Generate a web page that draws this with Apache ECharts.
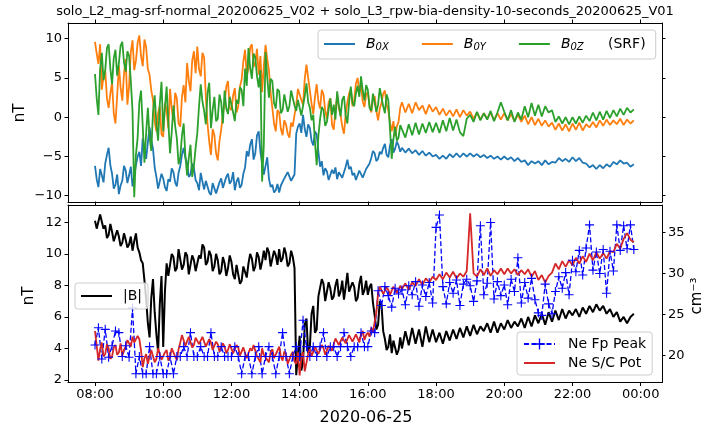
<!DOCTYPE html>
<html>
<head>
<meta charset="utf-8">
<script src="https://cdn.jsdelivr.net/npm/echarts@6/dist/echarts.min.js"></script>
<style>
html, body { margin: 0; padding: 0; background: #fff; }
#chart { width: 706px; height: 428px; }
</style>
</head>
<body>
<div id="chart"></div>
<script>
// times in minutes since 00:00
// early part 08:00-16:57 every 3 min, late part 17:00-23:48 every 6 min
var earlyStart = 480, earlyStep = 3;
var lateStart = 1020, lateStep = 6;
var tickMinutes = [480, 600, 720, 840, 960, 1080, 1200, 1320, 1440];
var bTicks = [-10, -5, 0, 5, 10];
var magTicks = [2, 4, 6, 8, 10, 12];
var denTicks = [20, 25, 30, 35];

// B0X (nT)
var bxEarly = [
  -6.2, -7.9, -8.9, -6.6, -7.4, -8.3, -5.9, -4.8, -3.9, -6.1, -7.2, -9.1, -8.6, -7.3, -9.8, -8.7, -8.1, -6.2, -6.8, -8.4,
  -7.4, -6.3, -8.8, -7.5, -6.1, -5.0, -4.4, -6.2, -2.7, -4.1, -5.3, -3.2, -1.3, -2.9, -4.0, -6.4, -7.6, -9.1, -8.9, -7.2,
  -7.8, -8.9, -9.4, -7.9, -8.2, -6.5, -7.0, -8.3, -8.8, -7.1, -6.2, -4.8, -3.9, -5.2, -5.8, -7.6, -7.3, -5.9, -6.5, -8.0,
  -8.4, -9.3, -7.1, -8.2, -9.2, -8.1, -8.0, -9.6, -9.9, -8.4, -8.6, -9.7, -9.5, -8.3, -7.8, -9.0, -8.9, -7.6, -7.2, -8.5,
  -8.1, -7.0, -9.3, -8.2, -7.7, -9.0, -8.6, -7.2, -6.4, -4.3, -5.0, -3.5, -2.8, -5.4, -4.6, -2.3, -1.8, -4.4, -5.9, -7.3,
  -6.2, -5.1, -7.8, -8.9, -8.6, -9.6, -9.3, -8.5, -9.6, -8.7, -8.9, -7.8, -7.6, -7.0, -7.2, -8.1, -7.9, -7.3, -2.1, -1.2,
  -0.8, -2.0, 0.3, -1.5, -2.5, -0.9, -1.4, -3.0, -3.6, -1.8, -2.2, -4.4, -6.3, -5.6, -7.4, -6.5, -6.9, -8.0, -7.8, -6.7,
  -7.2, -6.4, -7.9, -7.0, -6.8, -7.7, -7.6, -6.3, -5.4, -6.6, -6.3, -7.4, -7.1, -8.0, -7.8, -6.8, -6.9, -7.7, -7.5, -6.6,
  -6.8, -5.9, -5.2, -4.3, -4.6, -5.6, -5.3, -4.4, -4.7, -3.9, -3.4, -4.8, -5.1, -3.6, -2.8, -4.5, -4.0, -3.1, -3.6, -4.4
];
var bxLate = [
  -3.9, -4.5, -4.0, -4.6, -4.2, -4.8, -4.3, -4.9, -4.5, -5.0,
  -4.8, -5.3, -4.9, -5.3, -4.7, -5.1, -4.6, -5.1, -4.6, -5.0,
  -4.6, -5.0, -4.7, -5.1, -4.8, -5.2, -4.9, -5.3, -5.0, -5.4,
  -5.0, -5.4, -5.1, -5.6, -5.2, -5.7, -5.5, -6.1, -5.6, -5.9,
  -5.6, -6.1, -5.5, -6.0, -5.7, -5.8, -5.2, -5.6, -5.3, -5.7,
  -5.1, -5.6, -5.2, -5.8, -5.9, -6.4, -6.1, -6.6, -6.1, -6.5,
  -6.0, -6.3, -5.7, -6.0, -5.5, -5.9, -5.8, -6.3, -6.0
];
// B0Y (nT)
var byEarly = [
  9.6, 8.1, 6.8, 9.3, 3.5, 5.2, 5.9, 2.4, 1.2, 3.0, 4.4, 0.5, -0.8, 2.7, 6.6, 3.8, 2.1, 5.5, 7.4, 1.6,
  4.0, 8.3, 9.8, 6.0, 7.2, 9.5, 10.4, 7.8, 6.5, 9.9, 8.9, 6.1, 5.4, 3.4, 2.2, -0.6, -1.8, 0.5, 1.4, -2.2,
  -2.5, 1.8, 0.9, -1.4, 3.6, 1.0, -0.5, 3.1, 2.4, -0.8, -1.2, 2.6, 4.1, 1.9, 6.9, 4.7, 3.3, 7.2, 8.4, 5.6,
  9.0, 6.1, 5.2, 8.2, 7.6, 2.5, -0.9, -3.1, -4.8, -1.5, -2.3, -4.6, -5.5, -3.0, -1.6, 0.4, 1.8, 3.9, 4.6, 1.2,
  0.9, 2.8, 3.7, 0.6, 1.4, 3.9, 4.8, 7.1, 8.6, 5.3, 6.2, 8.9, 9.3, 6.4, 7.0, 8.7, 5.4, 7.8, 3.2, 6.5,
  9.2, 7.4, 6.0, 3.1, 1.2, -0.8, -1.8, 0.9, 0.6, -1.5, -2.3, -0.4, -0.9, -2.1, -2.6, -0.7, -1.2, 0.3, 1.5, 3.6,
  3.8, 2.2, 1.6, 4.9, 6.7, 5.0, 3.4, 1.7, 0.4, 2.6, 4.2, 2.0, 1.1, 3.5, 2.9, 0.8, -0.2, 1.9, 2.4, -1.0,
  -1.6, 0.9, 2.8, 1.1, 0.3, -1.2, -2.1, 0.4, 1.9, 3.0, 3.6, 1.4, 2.2, 4.3, 5.0, 3.2, 4.1, 2.0, 1.3, 2.9,
  3.2, 1.5, 0.6, 2.3, 2.7, 0.8, -0.4, 1.1, 1.8, 3.0, 3.4, 1.6, 0.9, -0.7, -1.8, -0.5, -2.4, -1.2, -0.6, 1.2
];
var byLate = [
  1.9, 0.6, 1.7, 0.5, 1.9, 0.9, 1.5, 0.4, 1.6, 0.7,
  1.3, 0.3, 1.1, 0.2, 0.9, 0.1, 1.0, 0.0, 0.9, 0.2,
  0.7, -0.2, 0.6, -0.3, 0.5, -0.2, 0.6, -0.4, 0.5, -0.3,
  0.5, -0.4, 0.4, -0.5, 0.3, -0.6, 0.2, -0.9, 0.0, -1.0,
  -0.2, -1.1, -0.4, -1.2, -0.7, -1.6, -0.8, -1.7, -0.9, -1.8,
  -0.8, -1.6, -0.7, -1.7, -0.9, -1.3, -0.6, -1.3, -0.4, -1.1,
  -0.3, -1.0, -0.4, -0.9, -0.2, -1.0, -0.3, -0.8, -0.4
];
// B0Z (nT)
var bzEarly = [
  5.5, 2.4, 0.3, 6.1, 8.2, 4.7, 6.0, 8.8, 9.3, 6.2, 4.2, 7.5, 8.6, 5.3, 6.9, 9.1, 9.6, 7.0, 5.8, 8.4,
  7.8, 4.6, 0.8, -10.2, -4.8, -2.6, 1.9, 3.4, -1.2, -5.8, -2.0, 1.2, -2.5, -4.3, 0.6, 2.8, -0.9, -3.0, 1.7, 4.5,
  -1.8, 1.2, 3.9, -0.6, -4.6, -1.9, 1.5, -1.1, -2.7, -6.0, -5.1, -2.3, -0.8, -4.9, -7.4, -5.2, -3.5, -7.6, -6.2, -3.9,
  -2.0, 1.4, 4.2, 2.0, 0.8, -0.9, 3.1, 4.4, -1.4, 0.9, 2.6, -0.5, -0.2, 2.9, 1.9, -0.8, 3.4, 1.1, 0.4, 2.6,
  2.8, 0.6, -0.5, 2.2, 1.7, 3.8, 3.5, 1.4, 6.2, 4.0, 8.8, 6.3, 4.9, 8.1, 7.6, 5.2, 3.8, 6.0, -8.2, -3.5,
  8.3, 5.1, 2.5, 4.9, 4.6, 1.8, 1.1, 3.6, 3.3, 0.5, 0.9, 2.9, 2.8, 0.7, 1.4, 3.4, 3.6, 1.5, 0.8, 2.2,
  2.0, 0.2, 0.4, 2.7, 4.3, 1.9, 1.2, -0.4, 0.3, -3.2, -6.1, -2.4, -0.2, 1.3, 0.9, -1.1, -0.6, 1.0, 2.4, 0.3,
  1.6, -0.3, 3.3, 1.5, 0.1, 2.2, 2.7, 0.2, -0.8, 1.9, 3.9, 1.8, 1.4, 3.0, 4.0, 2.6, 5.2, 3.4, 2.1, 4.1,
  3.5, 1.2, 0.8, 3.0, 2.9, 0.7, 1.6, 3.7, 3.8, 1.4, 0.5, 2.9, 2.2, -1.6, -5.3, -2.8, -1.2, -3.0, -2.6, -1.0
];
var bzLate = [
  -1.2, -2.6, -0.9, -2.3, -0.7, -2.2, -0.8, -2.0, -0.6, -1.9,
  -0.7, -2.0, -0.4, -1.8, -0.1, -1.7, -0.3, -1.9, -2.4, -0.2,
  0.3, -0.6, 0.7, -0.4, 0.5, -0.3, 0.8, -0.5, 0.6, 1.9,
  0.7, -0.4, 0.9, -0.6, 0.6, -0.3, 1.4, 0.0, 1.8, 0.2,
  1.6, 0.1, 1.4, 0.6, 0.9, -0.6, 0.1, -0.8, 0.0, -0.9,
  0.0, -0.8, 0.1, -0.7, 0.2, -0.5, 0.6, -0.4, 0.7, -0.3,
  0.8, -0.1, 0.9, 0.1, 1.1, 0.3, 1.2, 0.6, 1.0
];
// |B| (nT)
var bmagEarly = [
  12.1, 11.6, 11.5, 12.5, 12.4, 11.6, 11.8, 11.0, 11.2, 11.9, 11.4, 10.8, 10.9, 11.5, 11.1, 10.5, 10.7, 11.3, 10.9, 10.4,
  10.6, 11.1, 10.2, 10.8, 11.3, 10.4, 10.1, 9.6, 9.4, 8.3, 7.1, 5.6, 4.7, 7.2, 8.4, 6.3, 4.9, 3.8, 6.8, 8.6,
  4.1, 7.6, 9.4, 8.6, 8.7, 10.0, 9.8, 8.9, 9.1, 10.3, 10.2, 9.0, 9.3, 10.1, 9.9, 8.7, 8.8, 9.9, 9.6, 8.9,
  9.0, 9.9, 9.7, 10.6, 10.4, 9.3, 9.5, 10.2, 9.9, 8.9, 9.2, 10.0, 9.6, 8.7, 8.9, 9.8, 9.4, 8.6, 9.1, 9.9,
  9.5, 8.7, 8.4, 9.3, 8.7, 8.1, 8.3, 9.2, 9.1, 8.5, 9.4, 10.0, 9.7, 8.9, 9.2, 10.1, 9.8, 9.0, 9.5, 10.2,
  9.6, 10.4, 10.1, 9.2, 9.3, 10.2, 9.9, 9.3, 10.3, 9.5, 9.7, 10.4, 10.0, 9.2, 9.4, 10.2, 9.8, 9.1, 2.3, 3.6,
  4.8, 2.6, 3.2, 5.5, 5.9, 3.7, 4.1, 6.2, 6.7, 5.0, 5.2, 7.3, 7.4, 8.4, 8.1, 7.0, 7.0, 8.2, 7.8, 7.1,
  7.3, 8.0, 8.4, 7.3, 7.6, 8.3, 7.1, 7.9, 8.8, 7.6, 7.5, 8.2, 7.9, 7.0, 7.2, 8.1, 8.6, 7.4, 7.7, 8.3,
  7.4, 7.9, 8.1, 6.9, 6.1, 5.2, 5.5, 7.0, 6.8, 5.1, 4.6, 3.9, 4.1, 4.9, 3.7, 4.5, 4.4, 3.6, 3.9, 4.7
];
var bmagLate = [
  4.0, 5.1, 4.2, 5.3, 4.3, 5.2, 4.1, 5.4, 4.4, 5.2,
  4.4, 5.0, 4.3, 5.1, 4.5, 5.2, 4.6, 5.3, 4.7, 5.4,
  4.8, 5.5, 4.9, 5.4, 5.1, 5.6, 5.0, 5.7, 5.0, 5.6,
  5.2, 5.8, 5.3, 5.7, 5.4, 5.9, 5.3, 6.0, 5.4, 6.1,
  5.6, 6.2, 5.5, 6.3, 5.7, 6.4, 5.8, 6.5, 5.9, 6.4,
  6.1, 6.5, 6.0, 6.6, 6.2, 6.7, 6.3, 6.8, 6.4, 6.7,
  6.2, 6.5, 6.0, 6.3, 5.7, 6.0, 5.6, 6.0, 6.2
];
// Ne S/C Pot (cm^-3)
var potEarly = [
  23.0, 21.2, 19.4, 20.8, 21.6, 19.9, 20.2, 21.4, 20.9, 19.6, 19.9, 21.0, 21.3, 20.1, 20.4, 21.5, 20.0, 20.7, 21.1, 21.9,
  21.8, 21.1, 22.3, 21.6, 21.4, 22.4, 22.0, 20.6, 18.6, 19.7, 20.2, 19.0, 19.1, 20.7, 20.5, 19.2, 19.6, 20.9, 20.8, 19.5,
  19.3, 20.4, 20.7, 19.4, 19.8, 20.9, 21.0, 19.9, 19.5, 20.8, 21.6, 22.5, 22.3, 21.2, 21.4, 22.3, 22.1, 21.0, 21.3, 22.2,
  22.4, 21.4, 21.5, 22.3, 22.2, 21.1, 21.2, 22.0, 21.6, 20.7, 20.8, 21.7, 21.4, 20.5, 20.6, 21.5, 21.1, 20.3, 20.7, 21.4,
  21.2, 20.3, 20.5, 21.3, 21.0, 20.0, 20.1, 21.0, 20.8, 19.7, 19.8, 20.9, 20.6, 21.3, 21.1, 19.9, 19.6, 19.2, 20.9, 20.1,
  20.3, 19.5, 19.2, 20.4, 20.8, 19.7, 19.6, 20.6, 21.1, 19.9, 19.4, 20.5, 20.2, 19.0, 18.9, 20.1, 20.5, 19.3, 19.0, 20.4,
  17.6, 19.8, 20.4, 18.1, 18.3, 20.2, 20.8, 19.9, 20.1, 21.1, 21.0, 20.2, 20.4, 21.3, 20.9, 20.1, 20.3, 21.2, 21.2, 20.6,
  21.4, 22.1, 22.0, 21.3, 21.2, 22.2, 22.3, 21.5, 21.6, 22.5, 22.4, 21.7, 21.8, 22.6, 22.1, 21.6, 22.6, 23.0, 21.9, 22.5,
  22.8, 22.3, 23.4, 22.9, 24.1, 25.3, 27.6, 28.4, 28.3, 27.5, 27.4, 28.3, 28.0, 27.4, 27.5, 28.4, 28.2, 27.6, 27.8, 28.5
];
var potLate = [
  28.1, 28.8, 28.0, 28.9, 28.5, 29.3, 28.6, 29.4, 28.9, 29.6,
  29.2, 29.9, 29.3, 30.1, 29.5, 30.2, 29.4, 30.0, 29.6, 30.3,
  37.3, 30.0, 29.6, 30.5, 29.8, 30.6, 29.7, 30.4, 29.9, 30.6,
  29.9, 30.6, 30.0, 30.5, 29.8, 30.4, 29.9, 30.5, 29.6, 30.3,
  29.2, 29.8, 28.9, 29.7, 30.1, 31.2, 30.5, 31.5, 30.8, 31.6,
  31.0, 31.9, 31.2, 32.1, 31.4, 32.4, 31.6, 32.6, 31.8, 32.5,
  31.8, 32.7, 32.6, 33.6, 33.0, 34.2, 34.9, 34.1, 33.8
];
// Ne Fp Peak (cm^-3), every 6 min from 08:00
var neFp = [
  21.3, 23.4, 19.6, 23.2, 19.8, 21.2, 23.0, 22.8, 19.9, 21.2,
  19.8, 25.8, 17.8, 19.9, 17.8, 17.8, 21.1, 17.8, 17.8, 19.9,
  17.8, 17.8, 19.9, 17.8, 19.9, 19.9, 21.1, 19.9, 22.8, 19.9,
  19.9, 21.1, 19.9, 19.9, 22.8, 19.9, 19.9, 21.1, 19.9, 19.9,
  19.9, 21.1, 19.9, 17.8, 19.9, 19.9, 17.8, 19.9, 21.1, 17.8,
  19.9, 21.1, 19.9, 17.8, 19.9, 22.8, 19.9, 17.8, 19.9, 21.1,
  19.9, 24.3, 21.1, 19.9, 21.1, 19.9, 21.1, 22.8, 19.9, 21.1,
  21.1, 19.9, 21.1, 22.8, 21.1, 19.9, 21.1, 21.1, 22.8, 21.1,
  21.1, 23.0, 22.8, 27.9, 26.1, 28.4, 27.3, 25.9, 28.2, 27.5,
  28.0, 26.2, 28.5, 27.4, 29.0, 26.0, 28.6, 27.2, 28.9, 26.4,
  35.6, 37.1, 28.4, 26.3, 28.9, 27.6, 29.2, 26.1, 28.7, 29.3,
  28.5, 26.6, 29.1, 35.8, 27.4, 28.8, 36.2, 26.9, 29.0, 27.3,
  28.6, 26.2, 29.3, 27.8, 31.9, 26.4, 28.9, 27.0, 29.4, 26.8,
  25.2, 24.9, 28.7, 26.3, 25.1, 27.8, 29.6, 28.2, 30.1, 27.4,
  31.6, 30.2, 32.8, 29.8, 33.1, 35.9, 30.4, 32.6, 30.0, 32.9,
  27.6, 32.7, 30.3, 35.9, 32.8, 35.8, 33.0, 35.9, 32.9
];

var FONT = 'DejaVu Sans';

function pairs(arr, start, stp) {
  var out = [];
  for (var i = 0; i < arr.length; i++) {
    out.push([start + i * stp, arr[i]]);
  }
  return out;
}
function joined(early, late) {
  return pairs(early, earlyStart, earlyStep).concat(pairs(late, lateStart, lateStep));
}
function hhmm(m) {
  var h = Math.floor(m / 60) % 24;
  var mm = m % 60;
  return (h < 10 ? '0' : '') + h + ':' + (mm < 10 ? '0' : '') + mm;
}
function minus(v) {
  return v < 0 ? '\u2212' + Math.abs(v) : String(v);
}

function xAx(grid, pos, labels) {
  return {
    type: 'value', gridIndex: grid, position: pos,
    min: 432.5, max: 1477.5,
    axisLine: { show: true, onZero: false, lineStyle: { color: '#000', width: 1 } },
    axisTick: { show: true, length: 3.5, customValues: tickMinutes, lineStyle: { color: '#000', width: 1 } },
    axisLabel: { show: labels, customValues: tickMinutes, formatter: hhmm, color: '#000', fontSize: 13, fontFamily: FONT, margin: 6 },
    splitLine: { show: false }
  };
}
function yAx(grid, pos, min, max, ticks, labels) {
  return {
    type: 'value', gridIndex: grid, position: pos,
    min: min, max: max,
    axisLine: { show: true, onZero: false, lineStyle: { color: '#000', width: 1 } },
    axisTick: { show: true, length: 3.5, customValues: ticks, lineStyle: { color: '#000', width: 1 } },
    axisLabel: { show: labels, customValues: ticks, formatter: minus, color: '#000', fontSize: 13, fontFamily: FONT, margin: 6 },
    splitLine: { show: false }
  };
}

var plus = 'path://M-0.12,-1 L0.12,-1 L0.12,-0.12 L1,-0.12 L1,0.12 L0.12,0.12 L0.12,1 L-0.12,1 L-0.12,0.12 L-1,0.12 L-1,-0.12 L-0.12,-0.12 Z';

var legendBox = {
  backgroundColor: 'rgba(255,255,255,0.8)',
  borderColor: '#cccccc',
  borderWidth: 1,
  borderRadius: 3
};
var noSymbol = { opacity: 0 };

var chart = echarts.init(document.getElementById('chart'), null, { renderer: 'canvas' });

chart.setOption({
  animation: false,
  backgroundColor: '#fff',
  grid: [
    { left: 68, right: 44, top: 23, height: 179 },
    { left: 68, right: 44, top: 205, height: 177.5 }
  ],
  xAxis: [
    xAx(0, 'bottom', false),
    xAx(1, 'bottom', true),
    xAx(0, 'top', false),
    xAx(1, 'top', false)
  ],
  yAxis: [
    yAx(0, 'left', -10.8, 12.0, bTicks, true),
    yAx(0, 'right', -10.8, 12.0, bTicks, false),
    yAx(1, 'left', 1.84, 13.1, magTicks, true),
    yAx(1, 'right', 16.74, 38.32, denTicks, true)
  ],
  legend: [
    Object.assign({
      data: ['B0X', 'B0Y', 'B0Z'],
      left: 318, top: 30,
      orient: 'horizontal',
      padding: [7, 72, 7, 5],
      itemWidth: 31, itemHeight: 12, itemGap: 32,
      itemStyle: noSymbol,
      formatter: function (name) {
        return '{b|B}{s|' + name.substring(1) + '}';
      },
      textStyle: {
        padding: [0, 0, 0, 6],
        rich: {
          b: { fontFamily: FONT, fontStyle: 'italic', fontSize: 14, lineHeight: 16, color: '#000' },
          s: { fontFamily: FONT, fontStyle: 'italic', fontSize: 10, lineHeight: 8, verticalAlign: 'bottom', color: '#000' }
        }
      }
    }, legendBox),
    Object.assign({
      data: ['|B|'],
      left: 75, top: 283,
      padding: [6, 6, 6, 5],
      itemWidth: 31, itemHeight: 12,
      itemStyle: noSymbol,
      textStyle: { fontFamily: FONT, fontSize: 14, color: '#000', padding: [0, 0, 0, 6] }
    }, legendBox),
    Object.assign({
      data: ['Ne Fp Peak', { name: 'Ne S/C Pot', itemStyle: noSymbol }],
      left: 517, top: 332,
      orient: 'vertical',
      padding: [5, 6, 5, 6],
      itemWidth: 31, itemHeight: 14, itemGap: 5,
      textStyle: { fontFamily: FONT, fontSize: 14, color: '#000', padding: [0, 0, 0, 8] }
    }, legendBox)
  ],
  series: [
    {
      name: 'B0X', type: 'line', xAxisIndex: 0, yAxisIndex: 0,
      data: joined(bxEarly, bxLate), symbol: 'none', color: '#1f77b4',
      lineStyle: { width: 1.8, color: '#1f77b4' }
    },
    {
      name: 'B0Y', type: 'line', xAxisIndex: 0, yAxisIndex: 0,
      data: joined(byEarly, byLate), symbol: 'none', color: '#ff7f0e',
      lineStyle: { width: 1.8, color: '#ff7f0e' }
    },
    {
      name: 'B0Z', type: 'line', xAxisIndex: 0, yAxisIndex: 0,
      data: joined(bzEarly, bzLate), symbol: 'none', color: '#2ca02c',
      lineStyle: { width: 1.8, color: '#2ca02c' }
    },
    {
      name: '|B|', type: 'line', xAxisIndex: 1, yAxisIndex: 2,
      data: joined(bmagEarly, bmagLate), symbol: 'none', color: '#000',
      lineStyle: { width: 2, color: '#000' }
    },
    {
      name: 'Ne Fp Peak', type: 'line', xAxisIndex: 1, yAxisIndex: 3,
      data: pairs(neFp, earlyStart, 6), symbol: plus, symbolSize: 9, showSymbol: true,
      color: '#0000ff',
      itemStyle: { color: '#0000ff' },
      lineStyle: { width: 1.3, color: '#0000ff', type: [5, 2.5] }
    },
    {
      name: 'Ne S/C Pot', type: 'line', xAxisIndex: 1, yAxisIndex: 3,
      data: joined(potEarly, potLate), symbol: 'none', color: '#d62728',
      lineStyle: { width: 1.8, color: '#d62728' }
    }
  ],
  graphic: [
    {
      type: 'text', x: 365, y: 12, z: 100,
      style: { text: 'solo_L2_mag-srf-normal_20200625_V02 + solo_L3_rpw-bia-density-10-seconds_20200625_V01',
        fontFamily: FONT, fontSize: 13, fill: '#000', textAlign: 'center', textVerticalAlign: 'middle' }
    },
    {
      type: 'text', x: 20.5, y: 113, rotation: Math.PI / 2, z: 100,
      style: { text: 'nT', fontFamily: FONT, fontSize: 15, fill: '#000', textAlign: 'center', textVerticalAlign: 'middle' }
    },
    {
      type: 'text', x: 29, y: 296, rotation: Math.PI / 2, z: 100,
      style: { text: 'nT', fontFamily: FONT, fontSize: 15, fill: '#000', textAlign: 'center', textVerticalAlign: 'middle' }
    },
    {
      type: 'text', x: 697, y: 296, rotation: Math.PI / 2, z: 100,
      style: { text: 'cm\u207B\u00B3', fontFamily: FONT, fontSize: 15, fill: '#000', textAlign: 'center', textVerticalAlign: 'middle' }
    },
    {
      type: 'text', x: 366, y: 418, z: 100,
      style: { text: '2020-06-25', fontFamily: FONT, fontSize: 16, fill: '#000', textAlign: 'center', textVerticalAlign: 'middle' }
    },
    {
      type: 'text', x: 608, y: 44, z: 100,
      style: { text: '(SRF)', fontFamily: FONT, fontSize: 14, fill: '#000', textAlign: 'left', textVerticalAlign: 'middle' }
    }
  ]
});
</script>
</body>
</html>
